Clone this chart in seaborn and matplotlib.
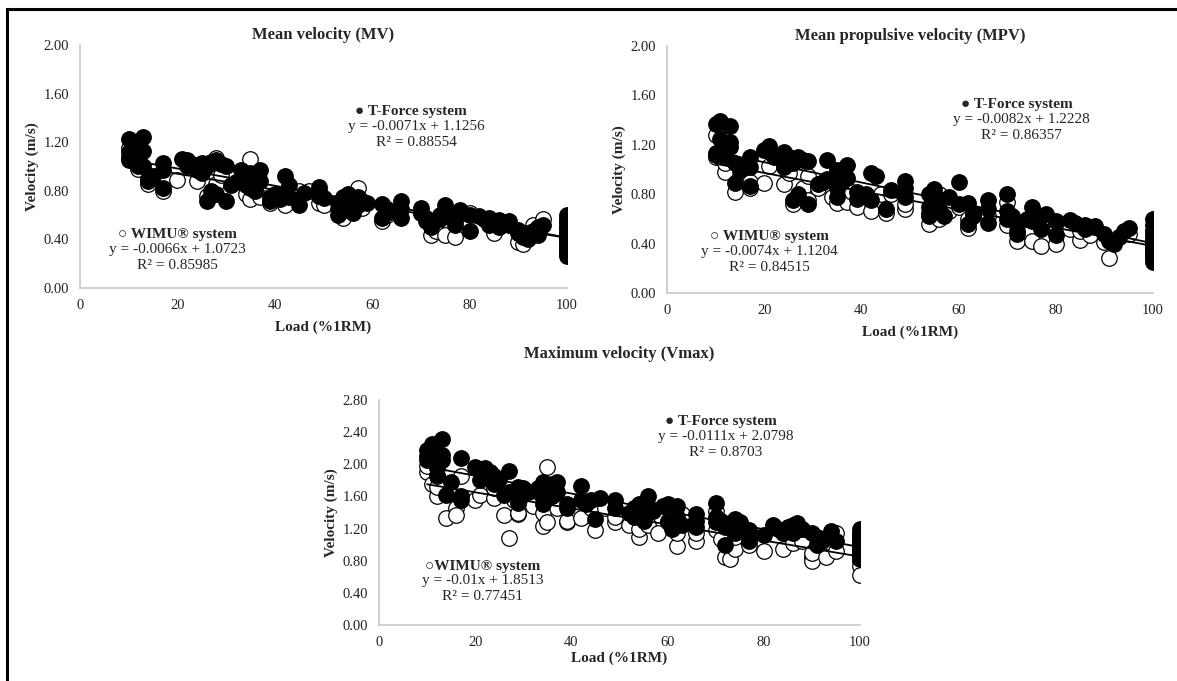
import numpy as np
import pandas as pd
import seaborn as sns
import matplotlib
matplotlib.use("Agg")
import matplotlib.pyplot as plt
from matplotlib.patches import Rectangle

# ---- Mean velocity (MV) ----
mv_tforce_load = [10, 10, 10, 10, 11, 11, 12, 12, 12, 13, 13, 13, 14, 14, 15, 17, 17, 17,
                  21, 22, 22, 23, 24, 24, 25, 25, 26, 26, 27, 27, 28, 28, 29, 30, 30,
                  31, 32, 33, 33, 34, 34, 34, 35, 35, 35, 36, 36, 36, 37, 37, 39, 39,
                  40, 41, 42, 42, 43, 43, 45, 46, 49, 49, 49, 50, 53, 53, 53, 54, 54,
                  55, 55, 56, 56, 57, 57, 58, 59, 62, 62, 63, 63, 66, 66, 66, 70, 70,
                  71, 71, 72, 72, 74, 74, 75, 75, 77, 77, 78, 80, 80, 82, 83, 84, 84,
                  86, 86, 88, 88, 90, 90, 91, 92, 92, 93, 94, 94, 95,
                  100, 100, 100, 100, 100, 100, 100, 100, 100, 100, 100, 100, 100]
mv_tforce_vel = [1.05, 1.08, 1.23, 1.12, 1.15, 1.20, 1.10, 1.05, 1.00, 1.24, 1.13, 1.00, 0.90, 0.88, 0.92, 1.03, 0.97, 0.82,
                 1.06, 1.05, 1.00, 1.02, 1.00, 0.97, 1.03, 0.95, 0.72, 1.00, 1.04, 0.80, 1.05, 0.77, 1.02, 0.72, 1.00,
                 0.85, 0.87, 0.97, 0.88, 0.92, 0.85, 0.90, 0.82, 0.88, 0.95, 0.85, 0.93, 0.80, 0.97, 0.88, 0.75, 0.72,
                 0.77, 0.73, 0.92, 0.78, 0.85, 0.75, 0.68, 0.78, 0.83, 0.80, 0.76, 0.74, 0.70, 0.65, 0.60, 0.75, 0.68,
                 0.77, 0.64, 0.70, 0.62, 0.75, 0.68, 0.72, 0.70, 0.69, 0.58, 0.62, 0.65, 0.72, 0.65, 0.58, 0.66, 0.62,
                 0.58, 0.55, 0.50, 0.52, 0.60, 0.57, 0.68, 0.62, 0.55, 0.52, 0.64, 0.60, 0.47, 0.59, 0.57, 0.58, 0.52,
                 0.56, 0.50, 0.55, 0.52, 0.48, 0.45, 0.42, 0.40, 0.45, 0.47, 0.50, 0.44, 0.52,
                 0.60, 0.57, 0.54, 0.50, 0.47, 0.44, 0.42, 0.40, 0.37, 0.34, 0.31, 0.28, 0.26]
mv_wimu_load = [10, 11, 12, 12, 14, 17, 20, 24, 26, 28, 28, 29, 33, 34, 35, 35, 37, 39, 42,
                45, 47, 49, 50, 54, 57, 58, 62, 63, 70, 72, 73, 75, 77, 80, 85, 90, 91,
                93, 95, 100, 100, 100, 100, 100, 100]
mv_wimu_vel = [1.15, 1.10, 0.98, 1.04, 0.86, 0.80, 0.89, 0.88, 0.76, 1.07, 0.86, 0.93, 0.90, 0.77, 1.06, 0.73, 0.75, 0.70, 0.68,
               0.80, 0.80, 0.70, 0.68, 0.58, 0.82, 0.66, 0.55, 0.60, 0.62, 0.44, 0.47, 0.44, 0.42, 0.62, 0.45, 0.38, 0.36,
               0.52, 0.57, 0.55, 0.50, 0.45, 0.40, 0.35, 0.30]

# ---- Mean propulsive velocity (MPV) ----
mpv_tforce_load = [10, 10, 10, 11, 11, 12, 12, 12, 13, 13, 13, 14, 14, 15, 17, 17, 17,
                   20, 21, 22, 24, 24, 24, 25, 26, 26, 27, 27, 28, 29, 29, 31, 32, 33, 33,
                   35, 35, 35, 35, 36, 36, 37, 37, 39, 39, 41, 42, 42, 43, 45, 46, 49, 49, 49,
                   54, 54, 54, 55, 55, 56, 56, 57, 58, 60, 60, 62, 62, 63, 63, 66, 66, 66,
                   70, 70, 70, 71, 72, 72, 74, 75, 75, 75, 77, 78, 80, 80, 83, 84, 86, 86,
                   88, 90, 91, 92, 93, 94, 95,
                   100, 100, 100, 100, 100, 100, 100, 100, 100, 100]
mpv_tforce_vel = [1.13, 1.37, 1.12, 1.39, 1.25, 1.20, 1.10, 1.15, 1.35, 1.22, 1.18, 0.89, 1.05, 1.00, 1.10, 1.02, 0.87,
                  1.16, 1.19, 1.10, 1.14, 1.08, 1.02, 1.10, 0.75, 1.05, 1.10, 0.80, 1.08, 1.07, 0.72, 0.88, 0.90, 1.08, 0.92,
                  1.00, 0.95, 0.85, 0.78, 0.98, 0.90, 1.04, 0.93, 0.82, 0.76, 0.80, 0.97, 0.75, 0.95, 0.68, 0.83, 0.91, 0.85, 0.78,
                  0.80, 0.70, 0.62, 0.84, 0.75, 0.76, 0.68, 0.62, 0.78, 0.90, 0.72, 0.73, 0.56, 0.62, 0.65, 0.75, 0.68, 0.57,
                  0.80, 0.66, 0.60, 0.62, 0.48, 0.55, 0.60, 0.70, 0.62, 0.58, 0.52, 0.64, 0.58, 0.47, 0.59, 0.57, 0.55, 0.52,
                  0.54, 0.48, 0.42, 0.40, 0.45, 0.50, 0.53,
                  0.60, 0.55, 0.50, 0.46, 0.42, 0.38, 0.35, 0.32, 0.28, 0.25]
mpv_wimu_load = [10, 10, 12, 12, 14, 17, 17, 20, 21, 24, 25, 26, 28, 29, 29, 31, 34, 35, 37,
                 38, 39, 42, 44, 45, 46, 49, 49, 54, 54, 56, 56, 58, 60, 62, 62, 66, 70, 70,
                 72, 72, 75, 77, 80, 80, 83, 85, 85, 87, 90, 91, 93, 95,
                 100, 100, 100, 100, 100]
mpv_wimu_vel = [1.28, 1.10, 0.98, 1.05, 0.82, 0.85, 0.90, 0.89, 1.03, 0.88, 0.97, 0.72, 0.85, 0.95, 0.75, 0.85, 0.78, 0.73, 0.74,
                0.82, 0.70, 0.66, 0.80, 0.65, 0.80, 0.68, 0.72, 0.56, 0.65, 0.60, 0.80, 0.66, 0.70, 0.53, 0.60, 0.62, 0.74, 0.55,
                0.42, 0.50, 0.42, 0.38, 0.40, 0.55, 0.52, 0.43, 0.50, 0.47, 0.41, 0.28, 0.45, 0.48,
                0.50, 0.45, 0.40, 0.35, 0.30]

# ---- Maximum velocity (Vmax) ----
vmax_tforce_load = [10, 10, 10, 11, 11, 12, 12, 12, 12, 13, 13, 13, 14, 15, 17, 17, 17,
                    20, 21, 22, 23, 24, 24, 25, 26, 27, 27, 29, 29, 30, 31, 33, 34, 34, 34,
                    35, 36, 36, 37, 37, 39, 39, 42, 42, 43, 44, 45, 46, 49, 49,
                    52, 53, 53, 54, 54, 55, 56, 56, 57, 59, 60, 60, 61, 62, 62, 63,
                    66, 66, 66, 70, 70, 70, 71, 72, 72, 73, 74, 74, 75, 77, 77,
                    80, 82, 83, 84, 85, 86, 86, 87, 88, 90, 91, 91, 92, 93, 94, 95,
                    100, 100, 100, 100, 100, 100, 100, 100, 100, 100, 100]
vmax_tforce_vel = [2.05, 2.18, 2.10, 2.25, 2.08, 2.15, 2.00, 1.95, 1.87, 2.32, 2.12, 2.05, 1.62, 1.78, 2.08, 1.60, 1.55,
                   1.97, 1.80, 1.96, 1.90, 1.85, 1.75, 1.82, 1.62, 1.92, 1.65, 1.72, 1.52, 1.70, 1.65, 1.70, 1.78, 1.58, 1.50,
                   1.65, 1.75, 1.60, 1.78, 1.65, 1.50, 1.45, 1.73, 1.55, 1.50, 1.55, 1.32, 1.58, 1.55, 1.45,
                   1.40, 1.45, 1.35, 1.50, 1.38, 1.30, 1.60, 1.48, 1.42, 1.48, 1.50, 1.30, 1.20, 1.48, 1.35, 1.25,
                   1.38, 1.30, 1.22, 1.52, 1.35, 1.28, 1.30, 1.00, 1.22, 1.25, 1.32, 1.15, 1.28, 1.18, 1.05,
                   1.12, 1.25, 1.20, 1.15, 1.22, 1.25, 1.15, 1.27, 1.20, 1.15, 1.10, 1.00, 1.05, 1.08, 1.17, 1.05,
                   1.20, 1.15, 1.12, 1.08, 1.05, 1.00, 0.97, 0.93, 0.90, 0.85, 0.82]
vmax_wimu_load = [10, 10, 11, 12, 12, 12, 14, 16, 16, 17, 20, 21, 24, 24, 26, 27, 28, 29, 29,
                  32, 34, 34, 35, 35, 37, 39, 39, 42, 44, 45, 47, 49, 49, 52, 54, 54, 56, 58,
                  60, 62, 62, 63, 66, 66, 70, 70, 71, 72, 73, 74, 74, 77, 80, 84, 86, 88,
                  90, 90, 90, 93, 95, 95,
                  100, 100, 100, 100, 100, 100, 100]
vmax_wimu_vel = [1.90, 1.98, 1.75, 1.60, 1.72, 1.85, 1.33, 1.45, 1.37, 1.85, 1.55, 1.62, 1.58, 1.70, 1.37, 1.08, 1.55, 1.38, 1.40,
                 1.48, 1.23, 1.40, 1.97, 1.28, 1.45, 1.28, 1.30, 1.33, 1.45, 1.18, 1.45, 1.28, 1.35, 1.25, 1.10, 1.20, 1.25, 1.15,
                 1.28, 0.98, 1.15, 1.38, 1.05, 1.15, 1.18, 1.42, 1.07, 0.85, 0.82, 0.95, 1.10, 1.00, 0.92, 0.94, 1.02, 1.05,
                 0.85, 0.80, 0.90, 0.85, 0.92, 1.15,
                 1.10, 1.00, 0.95, 0.88, 0.80, 0.73, 0.62]

# trendline fits shown on the chart: (slope, intercept, R2)
mv_fit_tforce = (-0.0071, 1.1256, 0.88554)
mv_fit_wimu = (-0.0066, 1.0723, 0.85985)
mpv_fit_tforce = (-0.0082, 1.2228, 0.86357)
mpv_fit_wimu = (-0.0074, 1.1204, 0.84515)
vmax_fit_tforce = (-0.0111, 2.0798, 0.8703)
vmax_fit_wimu = (-0.01, 1.8513, 0.77451)

sns.set_style("white")
plt.rcParams['font.family'] = ['Liberation Serif', 'DejaVu Sans']

W, H = 1177, 681
fig = plt.figure(figsize=(W / 100, H / 100), dpi=100)


def px_axes(left, top, right, bottom):
    return fig.add_axes([left / W, 1 - bottom / H, (right - left) / W, (bottom - top) / H])


def fit_text(fit):
    slope, intercept, r2 = fit
    return f"y = {slope:g}x + {intercept:g}\nR\u00b2 = {r2:g}"


def draw_panel(ax, wimu_load, wimu_vel, tf_load, tf_vel, fit_w, fit_t, ymax,
               tf_pos, wimu_pos, wimu_mark):
    wimu = pd.DataFrame({"load": wimu_load, "vel": wimu_vel})
    tf = pd.DataFrame({"load": tf_load, "vel": tf_vel})
    sns.scatterplot(data=wimu, x="load", y="vel", ax=ax, s=125, color="white",
                    edgecolor="black", linewidth=0.9, zorder=2)
    sns.scatterplot(data=tf, x="load", y="vel", ax=ax, s=125, color="black",
                    edgecolor="black", linewidth=0.9, zorder=3)
    for df, fit in ((tf, fit_t), (wimu, fit_w)):
        xs = np.array([df["load"].min(), df["load"].max()])
        ax.plot(xs, fit[0] * xs + fit[1], color="black", lw=1.3, zorder=4)

    ax.set_xlim(0, 100)
    ax.set_ylim(0, ymax)
    ax.set_xticks(np.arange(0, 101, 20))
    ax.set_yticks(np.arange(0, ymax + 0.001, 0.4))
    ax.yaxis.set_major_formatter(matplotlib.ticker.FormatStrFormatter("%.2f"))
    ax.tick_params(length=0, labelsize=10.5, pad=8, labelcolor="#222222")
    for side in ("top", "right"):
        ax.spines[side].set_visible(False)
    for side in ("left", "bottom"):
        ax.spines[side].set_color("#c8c8c8")
        ax.spines[side].set_linewidth(1.2)
    ax.set_xlabel("")
    ax.set_ylabel("Velocity (m/s)", fontsize=11, fontweight="bold", labelpad=3)

    ax.text(tf_pos[0], tf_pos[1], "\u25cf T-Force system", ha="center", va="center",
            fontsize=11, fontweight="bold", zorder=5)
    ax.text(tf_pos[0] + 1, tf_pos[1] - 0.07 * ymax / 2, fit_text(fit_t), ha="center", va="top",
            fontsize=11, linespacing=1.3, zorder=5)
    ax.text(wimu_pos[0], wimu_pos[1], wimu_mark + "WIMU\u00ae system", ha="center", va="center",
            fontsize=11, fontweight="bold", zorder=5)
    ax.text(wimu_pos[0], wimu_pos[1] - 0.07 * ymax / 2, fit_text(fit_w), ha="center", va="top",
            fontsize=11, linespacing=1.3, zorder=5)


ax1 = px_axes(80, 45, 567, 288)
draw_panel(ax1, mv_wimu_load, mv_wimu_vel, mv_tforce_load, mv_tforce_vel,
           mv_fit_wimu, mv_fit_tforce, 2.0, (68, 1.45), (20, 0.44), "\u25cb ")
ax1.set_title("Mean velocity (MV)", fontsize=12, fontweight="bold", pad=4)
ax1.set_xlabel("Load (%1RM)", fontsize=11, fontweight="bold", labelpad=6)

ax2 = px_axes(667, 46, 1153, 293)
draw_panel(ax2, mpv_wimu_load, mpv_wimu_vel, mpv_tforce_load, mpv_tforce_vel,
           mpv_fit_wimu, mpv_fit_tforce, 2.0, (72, 1.53), (21, 0.46), "\u25cb ")
ax2.set_title("Mean propulsive velocity (MPV)", fontsize=12, fontweight="bold", pad=4)
ax2.set_xlabel("Load (%1RM)", fontsize=11, fontweight="bold", labelpad=6)

ax3 = px_axes(379, 400, 860, 625)
draw_panel(ax3, vmax_wimu_load, vmax_wimu_vel, vmax_tforce_load, vmax_tforce_vel,
           vmax_fit_wimu, vmax_fit_tforce, 2.8, (71, 2.53), (21.5, 0.73), "\u25cb")
ax3.set_title("Maximum velocity (Vmax)", fontsize=12, fontweight="bold", pad=30)
ax3.set_xlabel("Load (%1RM)", fontsize=11, fontweight="bold", labelpad=2)

# outer black frame (left and top edges visible)
fig.patches.append(Rectangle((7 / W, -0.05), 1.1, 1 - 9 / H + 0.05,
                             transform=fig.transFigure, fill=False,
                             edgecolor="black", linewidth=2.2))

fig.savefig("out.png", dpi=100)
